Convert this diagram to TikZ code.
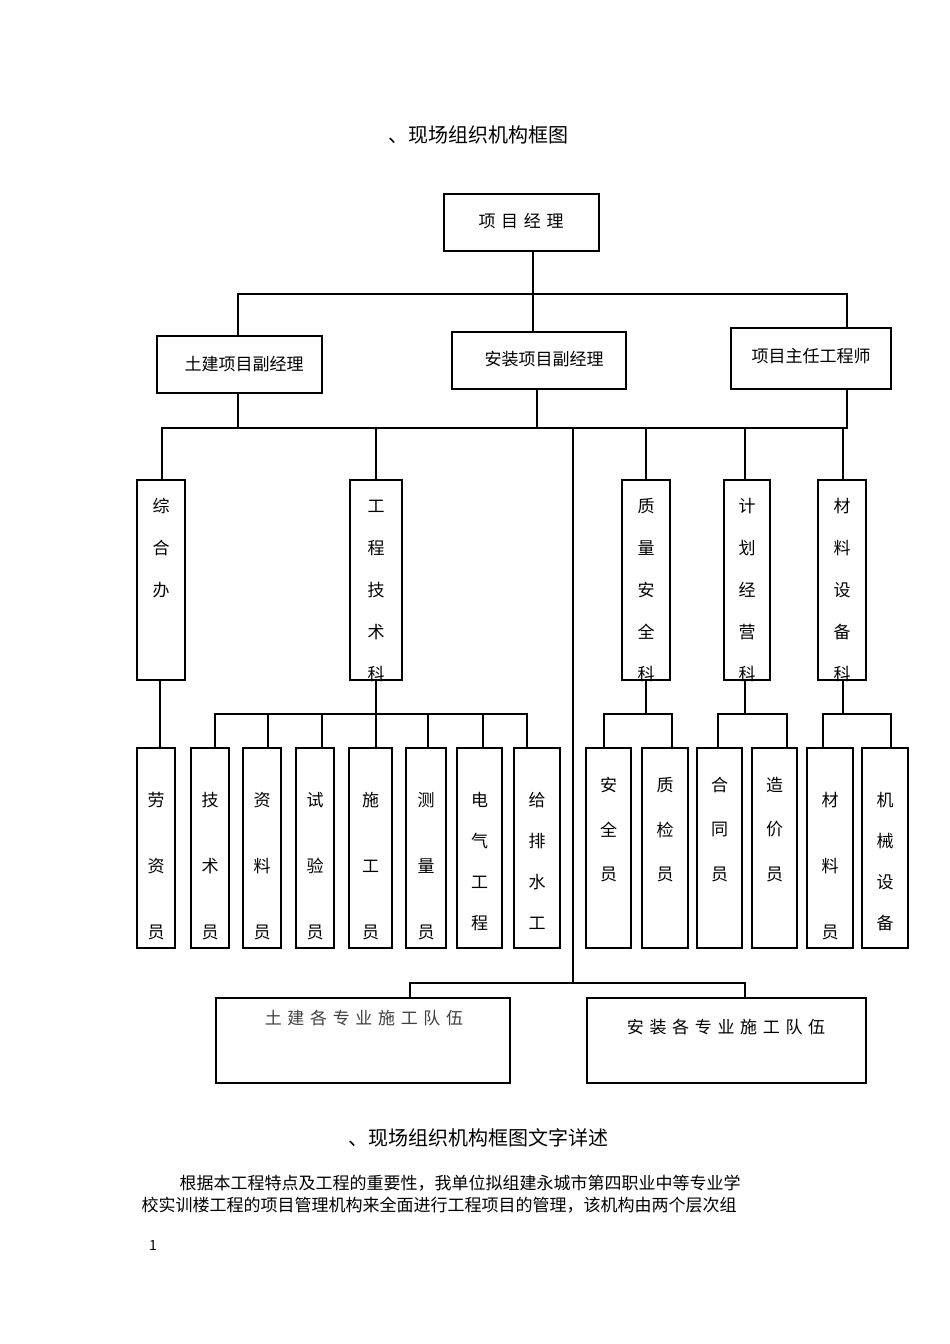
\documentclass[tikz,border=0pt]{standalone}
\usepackage{fontspec}
\setmainfont{Noto Sans CJK SC}
\begin{document}
\begin{tikzpicture}[x=1pt,y=-1pt,
 bx/.style={draw,line width=1.6pt,inner sep=0pt},
 ln/.style={line width=1.4pt},
 t/.style={font=\fontsize{17}{17}\selectfont}]
\useasboundingbox[fill=white] (0,0) rectangle (950,1344);
\node[t,font=\fontsize{20}{20}\selectfont] (title) at (478,135) {、现场组织机构框图};
% top boxes
\draw[bx] (444,194) rectangle (599,251); \node[t] (pm) at (521,221) {项\,\,目\,\,经\,\,理};
\draw[bx] (157,336) rectangle (322,393); \node[t] (a) at (244,364) {土建项目副经理};
\draw[bx] (452,332) rectangle (626,389); \node[t] (b) at (544,359) {安装项目副经理};
\draw[bx] (731,328) rectangle (891,389); \node[t] (c) at (811,356) {项目主任工程师};
\draw[ln] (533,251)--(533,294); \draw[ln] (238,336)--(238,294)--(847,294)--(847,328);
\draw[ln] (533,294)--(533,332);
\draw[ln] (162,480)--(162,428)--(847,428)--(847,389);
\draw[ln] (238,393)--(238,428); \draw[ln] (537,389)--(537,428);
\draw[ln] (376,428)--(376,480); \draw[ln] (646,428)--(646,480);
\draw[ln] (745,428)--(745,480); \draw[ln] (843,428)--(843,480);
\draw[ln] (573,428)--(573,983); \draw[ln] (410,998)--(410,983)--(745,983)--(745,998);
% row1
\foreach \xa/\xb/\txt in {137/185/{综,合,办},350/402/{工,程,技,术,科},622/670/{质,量,安,全,科},724/770/{计,划,经,营,科},818/866/{材,料,设,备,科}}{
 \draw[bx] (\xa,480) rectangle (\xb,680);
 \foreach \ch [count=\i] in \txt { \node[t] at ({(\xa+\xb)/2},{506+42*(\i-1)}) {\ch}; }
}
% buses
\draw[ln] (160,680)--(160,748);
\draw[ln] (376,680)--(376,714); \draw[ln] (215,748)--(215,714)--(527,714)--(527,748);
\foreach \x in {268,322,376,428,483} {\draw[ln] (\x,714)--(\x,748);}
\draw[ln] (646,680)--(646,714); \draw[ln] (604,748)--(604,714)--(672,714)--(672,748);
\draw[ln] (745,680)--(745,714); \draw[ln] (718,748)--(718,714)--(787,714)--(787,748);
\draw[ln] (843,680)--(843,714); \draw[ln] (823,748)--(823,714)--(891,714)--(891,748);
% row2
\foreach \xa/\xb/\txt/\ys/\dy in {137/175/{劳,资,员}/800/66,191/229/{技,术,员}/800/66,243/281/{资,料,员}/800/66,296/334/{试,验,员}/800/66,349/392/{施,工,员}/800/66,406/446/{测,量,员}/800/66,457/502/{电,气,工,程}/800/41,514/560/{给,排,水,工}/800/41,586/631/{安,全,员}/785/44.5,642/688/{质,检,员}/785/44.5,697/742/{合,同,员}/785/44.5,752/797/{造,价,员}/785/44.5,807/853/{材,料,员}/800/66,862/908/{机,械,设,备}/800/41}{
 \draw[bx] (\xa,748) rectangle (\xb,948);
 \foreach \ch [count=\i] in \txt { \node[t] at ({(\xa+\xb)/2},{\ys+\dy*(\i-1)}) {\ch}; }
}
\draw[bx] (216,998) rectangle (510,1083); \node[t,text=black!75] (d) at (364,1018) {土\,\,建\,\,各\,\,专\,\,业\,\,施\,\,工\,\,队\,\,伍};
\draw[bx] (587,998) rectangle (866,1083); \node[t] (e) at (726,1027) {安\,\,装\,\,各\,\,专\,\,业\,\,施\,\,工\,\,队\,\,伍};
\node[font=\fontsize{20}{20}\selectfont] (t2) at (478,1138) {、现场组织机构框图文字详述};
\node[t,anchor=west] (p1) at (176,1183) {根据本工程特点及工程的重要性，我单位拟组建永城市第四职业中等专业学};
\node[t,anchor=west] (p2) at (138,1205) {校实训楼工程的项目管理机构来全面进行工程项目的管理，该机构由两个层次组};
\node[font=\fontsize{14}{14}\selectfont] (pg) at (153,1245) {1};
\end{tikzpicture}
\end{document}
